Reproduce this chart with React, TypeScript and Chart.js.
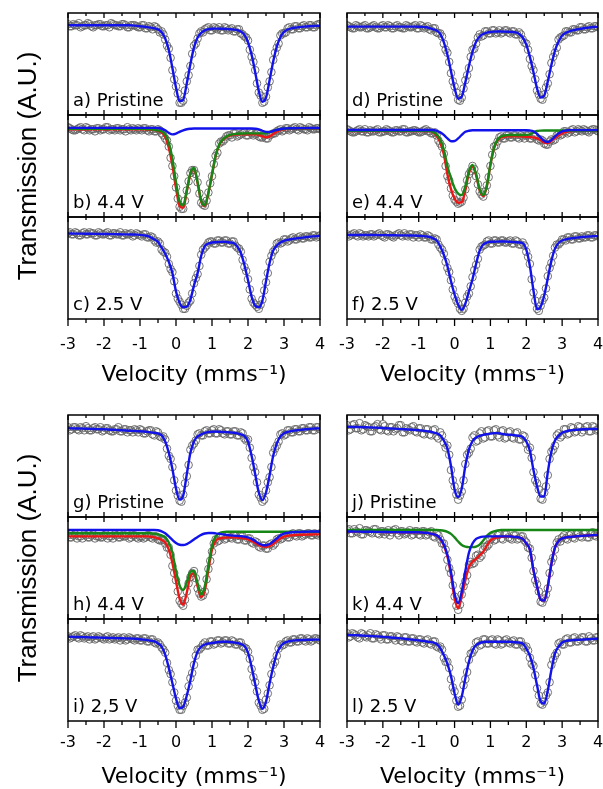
import React, { useEffect, useRef } from "react";
import { Chart, registerables } from "chart.js";

Chart.register(...registerables);

const FONT = '"DejaVu Sans", "Liberation Sans", Arial, sans-serif';
const FONT_Y = '"Liberation Sans", Arial, Helvetica, sans-serif';
const BLUE = "rgb(18,18,235)";
const RED = "rgb(235,22,22)";
const GREEN = "rgb(22,135,22)";
const CIRCLE = "rgba(100,100,100,0.9)";

// Velocity channels (mm/s)
const velocity = [-3,-2.9,-2.8,-2.7,-2.6,-2.5,-2.4,-2.3,-2.2,-2.1,-2,-1.9,-1.8,-1.7,-1.6,-1.5,-1.4,-1.3,-1.2,-1.1,-1,-0.9,-0.8,-0.7,-0.6,-0.5,-0.4,-0.3,-0.2,-0.1,0,0.1,0.2,0.3,0.4,0.5,0.6,0.7,0.8,0.9,1,1.1,1.2,1.3,1.4,1.5,1.6,1.7,1.8,1.9,2,2.1,2.2,2.3,2.4,2.5,2.6,2.7,2.8,2.9,3,3.1,3.2,3.3,3.4,3.5,3.6,3.7,3.8,3.9,4];
const velocityMid = [-2.95,-2.85,-2.75,-2.65,-2.55,-2.45,-2.35,-2.25,-2.15,-2.05,-1.95,-1.85,-1.75,-1.65,-1.55,-1.45,-1.35,-1.25,-1.15,-1.05,-0.95,-0.85,-0.75,-0.65,-0.55,-0.45,-0.35,-0.25,-0.15,-0.05,0.05,0.15,0.25,0.35,0.45,0.55,0.65,0.75,0.85,0.95,1.05,1.15,1.25,1.35,1.45,1.55,1.65,1.75,1.85,1.95,2.05,2.15,2.25,2.35,2.45,2.55,2.65,2.75,2.85,2.95,3.05,3.15,3.25,3.35,3.45,3.55,3.65,3.75,3.85,3.95];

// ---- a) Pristine
const aData = [89,87,88,90,87,88,89,86,88,89, 87,88,90,88,87,89,88,86,88,87, 86,88,85,86,87,84,82,74,65,44, 28,12,14,33,48,68,75,82,84,86, 83,85,86,83,85,84,82,84,80,77, 73,57,44,22,12,18,33,54,66,78, 80,85,84,87,85,87,86,88,86,88, 89];
const aMid = [87,89,88,86,88,90,87,88,89,87, 88,86,89,88,87,89,86,88,88,86, 88,85,87,84,86,81,79,68,56,35, 21,12,24,39,60,70,80,81,85,83, 86,84,83,86,83,85,82,84,79,76, 64,52,31,19,13,27,42,61,70,80, 81,86,84,87,85,88,86,88,86,89];
const aFit = [88,88,88,88,88,88,88,88,88,88, 88,88,88,88,88,88,88,88,87.7,87.4, 87,86.6,86.2,85.6,85,84,81.2,75,63.7,46, 27,13.5,15,31,50,66.3,76,80.5,83,84.2, 84.6,84.7,84.6,84.5,84.3,84.1,83.8,83.2,81.8,78.5, 71.3,59,42,23.4,13,17,34.2,52.5,67.1,76.3, 81.5,83.8,85,85.6,86,86.4,86.7,87,87.2,87.4, 87.5];

// ---- b) 4.4 V
const bData = [88,86,85,87,86,88,85,86,87,85, 86,88,86,85,87,86,84,86,87,85, 86,87,85,86,84,86,82,77,69,50, 29,10,8,26,43,46,34,14,11,24, 40,60,72,74,79,80,82,79,81,83, 80,82,81,79,78,77,80,82,84,86, 85,87,86,88,85,87,86,88,86,87, 86];
const bMid = [87,85,86,88,85,87,86,84,87,86, 88,85,86,87,85,86,88,85,86,87, 85,87,84,86,84,85,80,75,58,40, 18,8,16,35,46,42,23,12,16,33, 52,63,74,76,80,78,82,80,82,80, 83,80,82,78,80,77,81,82,85,84, 87,85,87,86,88,86,85,87,86,87];
const bBlue = [87.4,87.4,87.4,87.4,87.4,87.4,87.4,87.4,87.4,87.4, 87.4,87.4,87.4,87.4,87.4,87.4,87.4,87.4,87.4,87.4, 87.4,87.4,87.4,87.4,87.4,87.2,86.5,85,82.5,81, 81.8,83.5,85,86,86.5,86.8,86.8,86.8,86.8,86.8, 86.8,86.8,86.8,86.8,86.8,86.8,86.8,86.8,86.8,86.8, 86.8,86.8,86.5,85.8,84.5,83.5,83.4,84.3,85.5,86.3, 86.8,86.9,87,87,87.1,87.1,87.1,87.2,87.2,87.2, 87.2];
const bGreen = [86.5,86.5,86.5,86.5,86.5,86.5,86.5,86.5,86.5,86.5, 86.5,86.5,86.5,86.5,86.5,86.5,86.5,86.5,86.5,86.5, 86.5,86.4,86.2,86,85.5,85,84,81,73,57, 34,15,11.4,26.6,43,48,34,16,11.4,24, 42,60,71,76,79,80.5,81.3,81.6,81.8,81.9, 82,82,82,82,82,82.2,83,84.3,85.4,86.1, 86.5,86.7,86.8,86.9,86.9,86.9,86.9,86.9,86.9,86.9, 86.9];
const bRed = [86,86,86,86,86,86,86,86,86,86, 86,86,86,86,86,86,86,86,86,86, 86,85.9,85.7,85.5,85.2,84.5,83,78.6,68,50.6, 28.4,11,9,25,42,47.4,33.4,15.4,10.8,23.4, 41.4,59.4,70.4,75.4,78.4,79.9,80.7,81,81.2,81.2, 81.2,81.2,81.1,80.4,79.1,78.1,79,81.4,83.6,85.1, 86,86.3,86.5,86.6,86.6,86.6,86.6,86.6,86.6,86.6, 86.6];

// ---- c) 2.5 V
const cData = [84,83,85,82,84,83,85,84,82,84, 83,85,82,84,83,82,84,83,81,84, 82,83,80,81,77,76,68,65,54,46, 25,17,10,13,18,35,44,63,70,75, 76,74,77,75,77,74,76,70,66,51, 39,20,14,10,19,36,56,66,74,74, 78,76,79,78,80,79,81,80,82,80, 82];
const cMid = [85,83,84,82,85,83,84,82,85,83, 84,82,84,83,85,82,83,84,82,83, 81,83,80,80,75,74,66,61,49,37, 20,14,10,16,25,40,52,68,72,76, 74,77,75,77,74,76,72,69,58,47, 29,16,12,14,28,45,62,68,75,75, 78,77,80,78,81,79,81,80,82,81];
const cFit = [83.8,83.8,83.7,83.7,83.7,83.6,83.6,83.5,83.5,83.4, 83.3,83.3,83.2,83.2,83.1,83,83,82.9,82.8,82.7, 82.5,82,81.5,80,78,75.5,70,64,56,45, 27,16,11.5,12,19,33,45,62,71.5,74, 75,75.3,75.5,75.8,75.5,75,74.5,71,65,53, 38,22,13,11.5,18,37,55,67,72,75, 76.7,77.5,78.2,78.8,79.3,79.8,80.2,80.6,81,81.3, 81.5];

// ---- d) Pristine
const dData = [88,86,85,87,86,88,85,87,86,85, 88,86,87,85,88,86,85,87,86,88, 85,87,86,84,85,81,80,70,61,41, 28,15,17,34,46,64,70,79,78,82, 80,83,81,80,83,81,82,79,81,74, 70,55,44,24,16,20,31,51,61,74, 77,82,81,84,83,86,84,86,85,87, 86];
const dMid = [87,85,88,86,87,85,86,88,85,87, 86,88,85,87,86,85,88,86,87,85, 88,85,87,83,85,80,77,64,52,33, 22,14,26,39,57,65,76,77,82,80, 83,80,83,81,83,80,82,79,79,71, 64,48,35,20,15,27,40,57,66,76, 78,82,81,84,83,86,84,87,85,87];
const dFit = [86.6,86.6,86.6,86.6,86.6,86.6,86.6,86.6,86.6,86.6, 86.6,86.6,86.6,86.6,86.6,86.6,86.6,86.6,86.6,86.6, 86.5,86.4,86,85.2,84,82.8,79.5,71.4,59,43, 26.4,16,18,32,48,62,71.8,77,79.5,80.8, 81.4,81.7,81.8,81.8,81.7,81.6,81.4,81,79.5,76, 69,57,42,26,17,19,33,49,63,72, 78,80.5,82,83,83.8,84.5,85,85.5,86,86.3, 86.6];

// ---- e) 4.4 V
const eData = [86,84,83,85,84,86,83,84,85,83, 84,86,84,83,85,84,86,83,84,85, 83,84,86,84,82,80,72,62,40,28, 17,13,15,27,42,50,40,25,20,31, 50,69,74,79,77,80,78,80,77,79, 80,77,79,76,76,72,71,76,76,81, 81,84,83,86,84,85,86,84,85,86, 84];
const eMid = [85,83,84,86,84,83,85,84,86,83, 84,85,83,85,84,86,83,84,85,84, 83,85,84,82,83,75,69,50,36,21, 15,14,19,36,45,47,32,22,25,39, 61,70,78,77,80,78,80,78,80,77, 80,77,79,75,75,71,74,75,80,80, 84,82,85,83,86,84,85,83,86,85];
const eBlue = [85.3,85.3,85.3,85.3,85.3,85.3,85.3,85.3,85.3,85.3, 85.3,85.3,85.3,85.3,85.3,85.3,85.3,85.3,85.3,85.3, 85.3,85.3,85.3,85.3,85.3,84.5,83,80.5,77,74.3, 74.5,77,80.5,83.5,84.6,85,85,85,85,85, 85,85,85,85,85,85,85,85,85,85, 85,84.8,84,81.5,78,74.5,73.5,75.5,79,82, 84,84.8,85.2,85.2,85.2,85.2,85.2,85.2,85.2,85.2, 85.2];
const eGreen = [84.5,84.5,84.5,84.5,84.5,84.5,84.5,84.5,84.5,84.5, 84.5,84.5,84.5,84.5,84.5,84.5,84.5,84.5,84.5,84.5, 84.5,84.5,84.5,84.5,83.5,81,76,66,50,38, 28.5,23,21.5,30,45,51,42,27,21.6,31, 52,68,76,79,80,80.4,80.4,80.4,80.4,80.4, 80.5,81,83,84.3,84.7,84.8,84.8,84.8,84.8,84.8, 84.8,84.8,84.8,84.8,84.8,84.8,84.8,84.8,84.8,84.8, 84.8];
const eRed = [84.3,84.3,84.3,84.3,84.3,84.3,84.3,84.3,84.3,84.3, 84.3,84.3,84.3,84.3,84.3,84.3,84.3,84.3,84.3,84.3, 84.3,84.3,84.3,84.3,83,79.5,73,61.5,42,27.3, 18,14,14.5,26,43,49.5,41,26,20.5,30, 51,67.5,75,78,78.8,79,79,79,79,78.8, 78.6,78.4,78,77,75.3,73,72.5,74.5,77.5,80, 82,83.3,84,84.4,84.7,84.7,84.7,84.7,84.7,84.7, 84.7];

// ---- f) 2.5 V
const fData = [83,82,84,81,83,82,81,83,82,84, 81,83,82,80,83,82,84,81,83,82, 80,82,80,81,78,78,70,64,50,38, 22,15,8,16,25,41,53,68,72,76, 74,77,75,77,75,76,74,77,73,75, 66,54,26,10,13,21,42,55,70,73, 78,77,80,78,81,79,80,82,80,82, 81];
const fMid = [81,83,82,84,81,82,83,81,83,82, 80,83,81,82,84,81,82,83,80,82, 83,80,82,78,79,73,68,56,46,29, 18,10,10,22,32,48,59,71,73,77, 74,77,75,77,75,77,74,76,73,72, 61,39,18,8,18,30,50,62,73,75, 78,80,78,81,79,81,80,82,80,82];
const fFit = [82.4,82.4,82.4,82.4,82.4,82.3,82.3,82.3,82.3,82.2, 82.2,82.2,82.1,82.1,82,82,82,81.9,81.8,81.7, 81.6,81.3,81,80.5,79,77,71,63,52,37, 24,14,9,15,27,39,54,67,73,75, 75.8,75.8,75.9,76,76,75.8,75.6,75.3,75,74.3, 68,52,28,9.5,12,23,40,57,69,74.5, 77,78,78.8,79.3,79.8,80.2,80.5,80.8,81,81.2, 81.4];

// ---- g) Pristine
const gData = [88,86,88,85,87,89,85,87,86,88, 85,87,84,86,88,84,86,85,83,85, 86,82,84,85,80,83,78,76,60,49, 26,16,22,40,66,72,81,80,84,82, 85,82,86,82,84,81,84,80,83,77, 76,58,44,22,15,26,39,63,70,81, 80,85,83,86,84,87,85,88,85,88, 86];
const gMid = [85,88,86,88,85,87,85,88,86,84, 87,85,84,86,84,86,83,85,86,83, 85,82,85,81,84,79,79,67,57,36, 21,15,33,51,70,75,82,80,85,82, 86,82,85,81,84,81,84,80,82,75, 68,49,34,19,17,34,49,67,74,82, 81,85,83,86,84,87,85,88,85,88];
const gFit = [87,86.9,86.8,86.7,86.6,86.5,86.4,86.3,86.2,86.1, 86,85.8,85.6,85.4,85.2,85,84.8,84.6,84.4,84.2, 84,83.8,83.5,83,82.5,82,80,74,63,47, 28,17,21,42,63,74,79,81,82.5,83.3, 83.6,83.7,83.6,83.4,83.2,83,82.6,82,81,79.5, 74,60,42,24,16.5,24,41,60,72,79, 82,83.5,84.3,84.8,85.2,85.6,86,86.3,86.6,86.8, 87];

// ---- h) 4.4 V
const hData = [82,80,83,81,79,82,80,83,81,80, 82,79,81,83,80,82,81,79,82,80, 81,79,82,80,81,78,77,74,70,52, 38,18,13,27,41,47,30,22,27,49, 66,78,77,81,79,80,82,78,81,77, 79,75,76,71,72,69,73,72,78,78, 82,80,83,82,84,81,83,84,82,83, 84];
const hMid = [80,82,79,81,83,80,82,79,81,80, 83,81,79,82,80,81,83,80,82,79, 81,80,82,79,81,77,78,70,63,45, 27,15,19,35,45,40,25,23,39,57, 74,76,81,78,82,79,81,78,81,77, 79,74,75,70,72,69,74,74,79,79, 82,80,84,81,84,82,84,82,84,82];
const hBlue = [87.3,87.3,87.3,87.3,87.3,87.3,87.3,87.3,87.3,87.3, 87.3,87.3,87.3,87.3,87.3,87.3,87.3,87.3,87.3,87.3, 87.3,87.3,87.3,87.3,87.3,87,86,84,81,77.5, 74.5,72.8,72.5,73.5,75.5,78,80.5,82.5,83.8,84.3, 84.3,84,83.5,83,82.5,82,81.7,81.5,81.2,80.8, 80,78.5,76.5,74,72.5,72.3,73.5,76,79,82, 83.8,84.5,85,85.3,85.4,85.5,85.6,85.7,85.8,85.8, 85.8];
const hGreen = [84,84,84,84,84,84,84,84,84,84, 84,84,84,84,84,84,84,84,84,84, 84,84,84,84,83.5,83,82,80,75,65, 47,33,28.5,36,46.5,47,35,24,32,53, 72,81,84,85.2,85.6,85.6,85.6,85.6,85.6,85.6, 85.6,85.6,85.6,85.6,85.6,85.6,85.6,85.6,85.6,85.6, 85.6,85.6,85.6,85.6,85.6,85.6,85.6,85.6,85.6,85.6, 85.6];
const hRed = [81,81,81,81,81,81,81,81,81,81, 81,81,81,81,81,81,81,81,81,81, 81,81,81,80.6,80,79,77.5,75,68,55, 37,20,14,26,42,45,32,21.5,28,48, 68,76.5,78.8,79.5,79.8,80,80,79.8,79.5,79, 78,76.5,74.5,72.5,71,70.9,71.5,73.5,76.5,79, 80.7,81.5,82,82.3,82.5,82.6,82.7,82.8,82.9,83, 83];

// ---- i) 2,5 V
const iData = [83,82,84,81,83,82,80,83,81,82, 80,83,81,80,82,81,79,82,80,81, 79,81,78,80,77,77,72,67,50,38, 20,11,15,23,42,55,70,72,77,74, 78,76,79,77,79,76,78,75,77,72, 68,51,38,18,11,21,35,55,64,75, 75,79,77,80,78,81,78,80,79,81, 79];
const iMid = [81,83,82,84,81,83,82,80,83,81, 82,80,82,81,79,82,80,81,79,81, 79,81,78,80,76,75,70,57,46,28, 15,11,18,34,47,64,70,75,74,78, 75,79,76,79,76,79,75,77,73,71, 61,43,29,15,12,27,46,58,71,74, 78,77,80,78,81,79,81,78,81,80];
const iFit = [82.6,82.5,82.4,82.3,82.2,82.1,82,81.9,81.8,81.7, 81.6,81.5,81.4,81.3,81.2,81.1,81,80.9,80.8,80.5, 80.2,79.8,79.3,78.7,78,76,73,65,52,37, 22,12.5,14,25,40,57,68,73,75,76, 76.5,77,77.5,77.7,77.7,77.5,77,76.5,75.5,73.5, 67,53,36,20,12,19,37,53,66,73, 76.5,77.8,78.5,79,79.2,79.4,79.5,79.6,79.7,79.8, 79.8];

// ---- j) Pristine
const jData = [90,86,91,87,85,90,88,84,89,86, 91,85,88,84,87,90,83,86,88,84, 87,82,86,81,85,79,83,73,70,46, 30,17,25,52,63,78,74,82,77,84, 79,85,80,84,77,83,78,82,76,80, 72,68,44,33,18,24,41,64,70,82, 80,86,82,87,84,88,85,89,84,88, 86];
const jMid = [85,90,87,92,86,89,84,88,91,85, 89,84,88,86,90,83,87,85,89,83, 87,81,86,80,86,77,80,68,61,36, 22,21,36,61,67,80,75,84,78,85, 79,86,78,85,78,84,77,83,76,79, 66,58,36,27,17,30,57,66,80,78, 86,81,88,83,89,83,88,84,89,85];
const jFit = [88.5,88.4,88.3,88.2,88.1,88,87.9,87.8,87.6,87.4, 87.2,87,86.8,86.6,86.4,86.2,86,85.8,85.6,85.3, 85,84.7,84.3,83.8,83,82,80,75,67,50, 27,19.5,28,50,66,74.5,78,79.5,80.5,81.2, 81.8,82.2,82.2,81.7,81,80.7,80.5,80,79.5,78.5, 74,65,46,30,20,20,44,64,75,79.5, 82.5,84,84.8,85.2,85.5,85.8,86,86.1,86.2,86.3, 86.4];

// ---- k) 4.4 V
const kData = [87,84,88,85,83,87,86,84,88,83, 86,85,82,87,84,86,83,85,82,86, 83,86,82,85,81,84,78,74,58,45, 22,9,24,37,53,54,62,60,68,71, 78,77,82,79,83,80,78,82,79,81, 75,69,47,34,17,20,30,56,68,78, 80,79,82,80,83,81,84,80,83,82, 84];
const kMid = [88,84,86,89,83,87,85,88,84,86, 83,87,85,88,82,86,84,87,83,86, 82,86,83,86,80,82,74,68,50,33, 13,14,32,43,56,55,63,62,71,73, 80,78,83,78,83,79,82,78,81,77, 70,60,38,27,16,24,45,60,75,76, 82,78,83,79,84,80,84,80,85,81];
const kBlue = [85.8,85.8,85.7,85.7,85.6,85.6,85.5,85.5,85.4,85.4, 85.3,85.3,85.2,85.2,85.2,85.1,85.1,85.1,85,85, 85,84.8,84.5,84,83.2,82,79,73,63,46, 25,15.5,27,47,65,74,78.5,80,80.7,81, 81,81,81,81,81,81,80.8,80.5,80,78.5, 74,68,48,32,19,18,32,54,70,76.5, 79,80,80.5,80.8,81.1,81.4,81.6,81.8,82,82.2, 82.4];
const kGreen = [87.3,87.3,87.3,87.3,87.3,87.3,87.3,87.3,87.3,87.3, 87.3,87.3,87.3,87.3,87.3,87.3,87.3,87.3,87.3,87.3, 87.3,87.3,87.3,87.3,87.3,87.3,87,86.5,85.5,83.5, 80,76,72.5,71,70.5,70.5,71,73,77,81.5, 84.5,86,86.8,87.2,87.2,87.2,87.2,87.2,87.2,87.2, 87.2,87.2,87.2,87.2,87.2,87.2,87.2,87.2,87.2,87.2, 87.2,87.2,87.2,87.2,87.2,87.2,87.2,87.2,87.2,87.2, 87.2];
const kRed = [85.8,85.8,85.7,85.7,85.6,85.6,85.5,85.5,85.4,85.4, 85.3,85.3,85.2,85.2,85.2,85.1,85.1,85.1,85,85, 85,84.8,84.5,84,83.2,82,78.5,72,61.5,43, 20,10.5,22,38,51,56,59,62.5,66,72, 77,79,80,80.5,80.8,81,80.8,80.5,80,78.5, 74,68,48,32,19,18,32,54,70,76.5, 79,80,80.5,80.8,81.1,81.4,81.6,81.8,82,82.2, 82.4];

// ---- l) 2.5 V
const lData = [86,83,85,82,86,83,84,81,85,82, 84,80,83,81,83,79,82,78,81,78, 80,77,79,76,78,73,73,62,58,41, 29,14,21,41,60,67,77,74,80,76, 79,76,80,75,79,77,78,75,78,74, 73,62,54,32,17,19,28,55,64,76, 75,80,77,81,78,80,82,78,81,79, 82];
const lMid = [82,86,84,81,85,82,86,81,84,80, 84,80,83,79,82,78,82,78,81,77, 80,76,80,75,78,72,70,58,52,33, 20,15,35,48,66,70,78,75,80,76, 80,75,79,76,80,76,79,75,78,72, 69,56,45,25,16,25,38,60,67,77, 75,81,77,82,78,82,78,83,79,82];
const lFit = [84.3,84.2,84.1,84,83.8,83.6,83.4,83.2,83,82.8, 82.5,82.2,81.9,81.6,81.3,81,80.6,80.2,79.8,79.4, 79,78.5,78,77.5,77,75.5,71.5,64.5,56,44, 27,16,24,42,58,69,74.5,76.5,77.5,77.7, 77.7,77.7,77.7,77.7,77.7,77.7,77.5,77.2,76.8,76, 71,64,52,35,19,17,30,50,66,73, 77,78.5,79,79.3,79.5,79.7,79.9,80.1,80.3,80.5, 80.6];

// ---- layout
const COL_LEFT = [68, 347];
const COL_WIDTH = [252, 251];
const GROUP_TOP = [13, 415];
const PANEL_H = 102;
const MX = 28;
const MY = 14;
const AXIS_H = 67;
const TICK_PAD = [16, 12];

type Fit = { values: number[]; color: string };
type Spec = { label: string; col: number; group: number; row: number; data: number[]; mid: number[]; fits: Fit[] };

const panels: Spec[] = [
  { label: "a) Pristine", col: 0, group: 0, row: 0, data: aData, mid: aMid, fits: [{ values: aFit, color: BLUE }] },
  { label: "b) 4.4 V", col: 0, group: 0, row: 1, data: bData, mid: bMid, fits: [{ values: bBlue, color: BLUE }, { values: bGreen, color: GREEN }, { values: bRed, color: RED }] },
  { label: "c) 2.5 V", col: 0, group: 0, row: 2, data: cData, mid: cMid, fits: [{ values: cFit, color: BLUE }] },
  { label: "d) Pristine", col: 1, group: 0, row: 0, data: dData, mid: dMid, fits: [{ values: dFit, color: BLUE }] },
  { label: "e) 4.4 V", col: 1, group: 0, row: 1, data: eData, mid: eMid, fits: [{ values: eBlue, color: BLUE }, { values: eGreen, color: GREEN }, { values: eRed, color: RED }] },
  { label: "f) 2.5 V", col: 1, group: 0, row: 2, data: fData, mid: fMid, fits: [{ values: fFit, color: BLUE }] },
  { label: "g) Pristine", col: 0, group: 1, row: 0, data: gData, mid: gMid, fits: [{ values: gFit, color: BLUE }] },
  { label: "h) 4.4 V", col: 0, group: 1, row: 1, data: hData, mid: hMid, fits: [{ values: hBlue, color: BLUE }, { values: hGreen, color: GREEN }, { values: hRed, color: RED }] },
  { label: "i) 2,5 V", col: 0, group: 1, row: 2, data: iData, mid: iMid, fits: [{ values: iFit, color: BLUE }] },
  { label: "j) Pristine", col: 1, group: 1, row: 0, data: jData, mid: jMid, fits: [{ values: jFit, color: BLUE }] },
  { label: "k) 4.4 V", col: 1, group: 1, row: 1, data: kData, mid: kMid, fits: [{ values: kBlue, color: BLUE }, { values: kGreen, color: GREEN }, { values: kRed, color: RED }] },
  { label: "l) 2.5 V", col: 1, group: 1, row: 2, data: lData, mid: lMid, fits: [{ values: lFit, color: BLUE }] },
];

const decorPlugin: any = {
  id: "decor",
  afterDatasetsDraw(chart: any, _args: any, opts: any) {
    const { ctx, chartArea } = chart;
    const { left, right, top, bottom } = chartArea;
    const x = chart.scales.x;
    ctx.save();
    ctx.strokeStyle = "#000";
    ctx.lineWidth = 1.5;
    ctx.strokeRect(left, top, right - left, bottom - top);
    let majors: number[] = (x.ticks || []).map((t: any) => t.value);
    if (!majors.length) {
      majors = [];
      for (let v = Math.ceil(x.min); v <= x.max; v++) majors.push(v);
    }
    const minors = majors.slice(1).map((v, i) => (v + majors[i]) / 2);
    ctx.lineWidth = 1.3;
    ctx.beginPath();
    const mark = (val: number, major: boolean) => {
      const px = x.getPixelForValue(val);
      const lt = major ? 5 : 3;
      ctx.moveTo(px, top);
      ctx.lineTo(px, top + lt);
      if (opts.isBottom) {
        const lb = major ? 7 : 4;
        ctx.moveTo(px, bottom);
        ctx.lineTo(px, bottom + lb);
      } else {
        ctx.moveTo(px, bottom);
        ctx.lineTo(px, bottom - lt);
      }
    };
    majors.forEach((v) => mark(v, true));
    minors.forEach((v) => mark(v, false));
    ctx.stroke();
    ctx.fillStyle = "#000";
    ctx.font = `18px ${FONT}`;
    ctx.textAlign = "left";
    ctx.textBaseline = "alphabetic";
    ctx.fillText(opts.label, left + 5, bottom - 9.5);
    ctx.restore();
  },
};

function Panel({ spec }: { spec: Spec }) {
  const ref = useRef<HTMLCanvasElement>(null);
  const isBottom = spec.row === 2;
  const hasYTitle = spec.col === 0 && spec.row === 1;
  const plotLeft = COL_LEFT[spec.col];
  const plotW = COL_WIDTH[spec.col];
  const plotTop = GROUP_TOP[spec.group] + spec.row * PANEL_H;

  let cLeft = plotLeft - MX;
  let cTop = plotTop - MY;
  let cW = plotW + 2 * MX;
  let cH = PANEL_H + 2 * MY;
  const pad = { left: MX, right: MX, top: MY, bottom: MY };
  if (isBottom) {
    cH = PANEL_H + MY + AXIS_H;
    pad.bottom = 0;
  }
  if (hasYTitle) {
    cLeft = 0;
    cW = plotLeft + plotW + MX;
    pad.left = 0;
    cTop = plotTop - PANEL_H - MY;
    cH = 3 * PANEL_H + 2 * MY;
    pad.top = PANEL_H + MY;
    pad.bottom = PANEL_H + MY;
  }

  useEffect(() => {
    const canvas = ref.current;
    if (!canvas) return;
    const datasets: any[] = spec.fits.map((f, i) => ({
      type: "line",
      data: velocity.map((v, j) => ({ x: v, y: f.values[j] })),
      borderColor: f.color,
      borderWidth: 2.4,
      pointRadius: 0,
      fill: false,
      cubicInterpolationMode: "monotone",
      order: i,
    }));
    const pts = velocity
      .map((v, j) => ({ x: v, y: spec.data[j] }))
      .concat(velocityMid.map((v, j) => ({ x: v, y: spec.mid[j] })));
    datasets.push({
      type: "scatter",
      data: pts,
      pointRadius: 3.8,
      pointHoverRadius: 3.8,
      pointBorderColor: CIRCLE,
      pointBackgroundColor: "rgba(0,0,0,0)",
      pointBorderWidth: 1,
      showLine: false,
      order: 10,
    });
    const chart = new Chart(canvas, {
      type: "scatter",
      data: { datasets },
      options: {
        animation: false,
        responsive: false,
        maintainAspectRatio: false,
        events: [],
        layout: { padding: pad },
        plugins: {
          legend: { display: false },
          tooltip: { enabled: false },
          decor: { label: spec.label, isBottom },
        } as any,
        scales: {
          x: {
            type: "linear",
            min: -3,
            max: 4,
            display: isBottom,
            position: "bottom",
            grid: { display: false, drawTicks: false },
            border: { display: false },
            ticks: {
              stepSize: 1,
              color: "#000",
              font: { size: 16, family: FONT },
              padding: TICK_PAD[spec.group],
              maxRotation: 0,
              autoSkip: false,
            },
            title: {
              display: isBottom,
              text: "Velocity (mms\u207B\u00B9)",
              color: "#000",
              font: { size: 22, family: FONT, lineHeight: 1 },
              padding: { top: 0, bottom: 0 },
            },
            afterFit: (s: any) => {
              if (isBottom) s.height = AXIS_H;
            },
          },
          y: {
            type: "linear",
            min: 0,
            max: 100,
            display: hasYTitle,
            grid: { display: false, drawTicks: false },
            border: { display: false },
            ticks: { display: false },
            title: {
              display: hasYTitle,
              text: "Transmission (A.U.)",
              color: "#000",
              font: { size: 26, family: FONT_Y, lineHeight: 1 },
              padding: { top: 16, bottom: 0 },
            },
            afterFit: (s: any) => {
              if (hasYTitle) s.width = plotLeft;
            },
          },
        } as any,
      },
      plugins: [decorPlugin],
    } as any);
    return () => chart.destroy();
  }, []);

  return (
    <canvas
      ref={ref}
      width={cW}
      height={cH}
      style={{ position: "absolute", left: cLeft, top: cTop, width: cW, height: cH }}
    />
  );
}

export default function App() {
  return (
    <div style={{ position: "absolute", left: 0, top: 0, width: 603, height: 789, background: "#fff", overflow: "hidden" }}>
      {panels.map((p) => (
        <Panel key={p.label} spec={p} />
      ))}
    </div>
  );
}
